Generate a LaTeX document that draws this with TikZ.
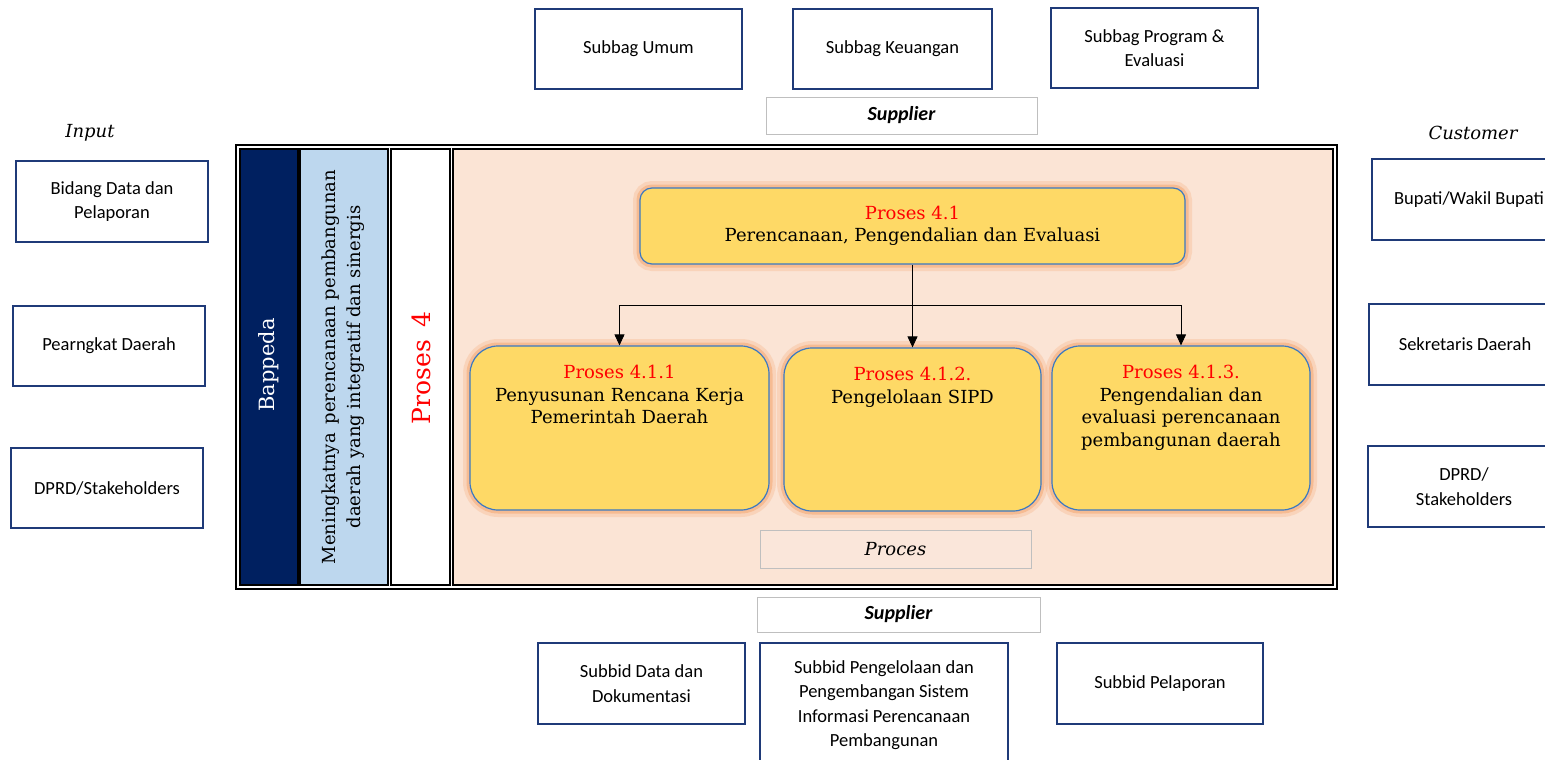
\documentclass[tikz,border=0pt]{standalone}
\usepackage{fontspec}
\setmainfont{DejaVu Serif}
\setsansfont{Carlito}
\usetikzlibrary{arrows.meta,positioning}
\definecolor{navy}{HTML}{002060}
\definecolor{skyblue}{HTML}{BDD7EE}
\definecolor{peach}{HTML}{FBE4D5}
\definecolor{peachlight}{HTML}{FAE6DA}
\definecolor{pyellow}{HTML}{FED966}
\definecolor{pblue}{HTML}{3A78C2}
\definecolor{boxblue}{HTML}{1F3A78}
\definecolor{glowor}{HTML}{F4A46C}

\begin{document}
\begin{tikzpicture}[x=1pt,y=-1pt,every text node part/.style={align=center},
sbox/.style={draw=boxblue,line width=1.5pt,fill=white,font=\sffamily\fontsize{18.5}{24.5}\selectfont,inner sep=2pt},
tagbox/.style={draw=black!25,line width=1pt,font=\sffamily\bfseries\itshape\fontsize{20}{22}\selectfont},
glow/.style={preaction={draw=glowor,line width=14pt,opacity=0.25},preaction={draw=glowor,line width=7pt,opacity=0.5}},
pbox/.style={draw=pblue,line width=1.2pt,fill=pyellow,glow},
ptext/.style={font=\fontsize{18}{22.5}\selectfont,inner sep=0pt},
arr/.style={-{Triangle[length=11pt,width=10pt]},line width=0.9pt}]

\useasboundingbox (0,0) rectangle (1545,760);

\node[sbox,minimum width=207,minimum height=80] (umum) at (638.5,49) {Subbag Umum};
\node[sbox,minimum width=199,minimum height=80] (keu) at (892.5,49) {Subbag Keuangan};
\node[sbox,minimum width=207,minimum height=80] (prog) at (1154.5,48) {Subbag Program \&\\Evaluasi};
\node[tagbox,minimum width=271,minimum height=37] (suptop) at (901.5,115.5) {Supplier};

\node[font=\itshape\fontsize{18}{20}\selectfont] (input) at (90,133) {Input};
\node[font=\itshape\fontsize{18}{20}\selectfont] (cust) at (1473,133) {Customer};

\node[sbox,minimum width=192,minimum height=81] (bid) at (112,201.5) {Bidang Data dan\\Pelaporan};
\node[sbox,minimum width=192,minimum height=80] (perangkat) at (109,346) {Pearngkat Daerah};
\node[sbox,minimum width=192,minimum height=80] (dprdin) at (107,488) {DPRD/Stakeholders};

\node[sbox,minimum width=194,minimum height=81] (bupati) at (1469,199.5) {Bupati/Wakil Bupati};
\node[sbox,minimum width=192,minimum height=81] (sekda) at (1465,344.5) {Sekretaris Daerah};
\node[sbox,minimum width=192,minimum height=81] (dprdout) at (1464,486.5) {DPRD/\\Stakeholders};

\draw[line width=2pt] (236,145) rectangle (1337,589);
\draw[line width=1.5pt,fill=navy] (240,149) rectangle (298,585);
\draw[line width=1.5pt,fill=skyblue] (300,149) rectangle (388,585);
\draw[line width=1.5pt,fill=white] (391,149) rectangle (450,585);
\draw[line width=1.5pt,fill=peach] (453,149) rectangle (1333,585);

\node[rotate=90,text=white,font=\fontsize{21}{24}\selectfont] (bappeda) at (269,365) {Bappeda};
\node[rotate=90,font=\fontsize{18}{25}\selectfont] (tujuan) at (343,367) {Meningkatnya\enspace perencanaan pembangunan\\daerah yang integratif dan sinergis};
\node[rotate=90,text=red,font=\fontsize{25}{28}\selectfont] (proses4) at (421,368) {Proses\enspace 4};

\node[pbox,rounded corners=12pt,minimum width=545,minimum height=76,font=\fontsize{18}{22}\selectfont] (p41) at (912.5,226) {\textcolor{red}{Proses 4.1}\\Perencanaan, Pengendalian dan Evaluasi};
\node[pbox,rounded corners=28pt,minimum width=299,minimum height=164] (p411) at (619.5,428) {};
\node[pbox,rounded corners=28pt,minimum width=257,minimum height=163] (p412) at (912.5,429.5) {};
\node[pbox,rounded corners=28pt,minimum width=258,minimum height=164] (p413) at (1181,428) {};
\node[ptext,below=20pt of p411.north] (t411) {\textcolor{red}{Proses 4.1.1}\\Penyusunan Rencana Kerja\\Pemerintah Daerah};
\node[ptext,below=20pt of p412.north] (t412) {\textcolor{red}{Proses 4.1.2.}\\Pengelolaan SIPD};
\node[ptext,below=20pt of p413.north] (t413) {\textcolor{red}{Proses 4.1.3.}\\Pengendalian dan\\evaluasi perencanaan\\pembangunan daerah};

\path (p41.south) ++(0,41) coordinate (fork);
\draw[arr] (p41.south) -- (p412.north);
\draw[arr] (fork) -| (p411.north);
\draw[arr] (fork) -| (p413.north);

\node[draw=black!25,line width=1pt,fill=peachlight,minimum width=271,minimum height=38,font=\itshape\fontsize{18}{20}\selectfont] (proces) at (895.5,549) {Proces};

\node[tagbox,minimum width=283,minimum height=35] (supbot) at (898.5,614.5) {Supplier};
\node[sbox,minimum width=207,minimum height=81] (datadok) at (641.5,683.5) {Subbid Data dan\\Dokumentasi};
\node[sbox,minimum width=248,minimum height=124] (sipp) at (884,705) {Subbid Pengelolaan dan\\Pengembangan Sistem\\Informasi Perencanaan\\Pembangunan};
\node[sbox,minimum width=206,minimum height=81] (lapor) at (1160,683.5) {Subbid Pelaporan};

\end{tikzpicture}
\end{document}
